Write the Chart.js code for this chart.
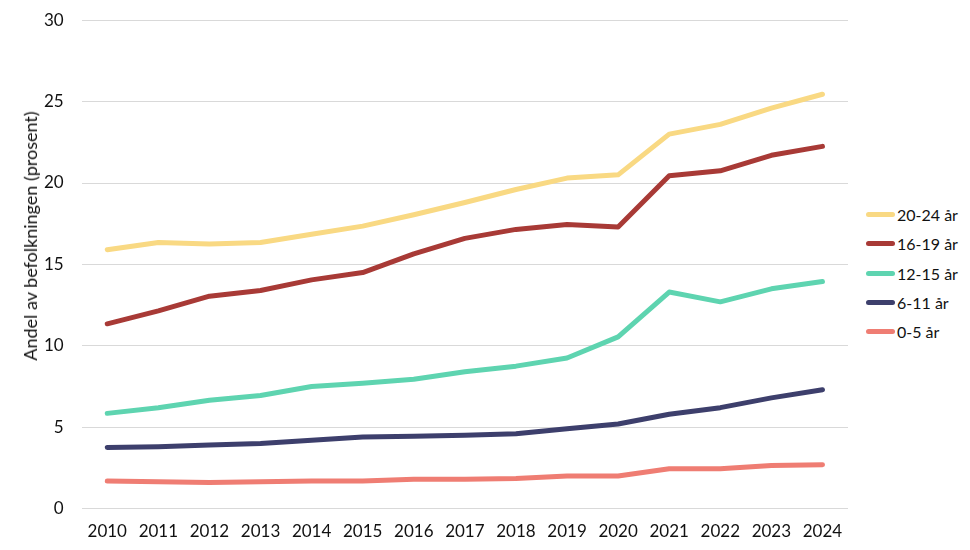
<!DOCTYPE html>
<html>
<head>
<meta charset="utf-8">
<script src="https://cdn.jsdelivr.net/npm/chart.js@4/dist/chart.umd.min.js"></script>
<style>
    body { margin: 0; background: #fff; font-family: Lato, "Open Sans", sans-serif; overflow: hidden; }
    #wrap { position: relative; width: 970px; height: 550px; overflow: hidden; }
    #box { position: absolute; left: 0; top: -8px; width: 858px; height: 555px; }
    #ytitle { position: absolute; left: 30px; top: 236px; transform: translate(-50%, -50%) rotate(-90deg);
              white-space: nowrap; font-size: 18px; color: #111; }
    #legend { position: absolute; left: 866px; top: 200px; font-size: 16px; color: #111; }
    #legend div { height: 29.3px; display: flex; align-items: center; }
    #legend span.swatch { display: inline-block; width: 29px; height: 5px; border-radius: 3px; margin-right: 2px; }
</style>
</head>
<body>
<div id="wrap">
    <div id="box"><canvas id="lineChart"></canvas></div>
    <div id="ytitle">Andel av befolkningen (prosent)</div>
    <div id="legend"></div>
</div>
<script>
const years = ['2010', '2011', '2012', '2013', '2014', '2015', '2016', '2017', '2018', '2019', '2020', '2021', '2022', '2023', '2024'];
const seriesNames = ['20-24 år', '16-19 år', '12-15 år', '6-11 år', '0-5 år'];
const age20to24 = [15.9, 16.35, 16.25, 16.35, 16.85, 17.35, 18.05, 18.8, 19.6, 20.3, 20.5, 23.0, 23.6, 24.6, 25.45];
const age16to19 = [11.35, 12.15, 13.05, 13.4, 14.05, 14.5, 15.65, 16.6, 17.15, 17.45, 17.3, 20.45, 20.75, 21.7, 22.25];
const age12to15 = [5.85, 6.2, 6.65, 6.95, 7.5, 7.7, 7.95, 8.4, 8.75, 9.25, 10.55, 13.3, 12.7, 13.5, 13.95];
const age6to11 = [3.75, 3.8, 3.9, 4.0, 4.2, 4.4, 4.45, 4.5, 4.6, 4.9, 5.2, 5.8, 6.2, 6.8, 7.3];
const age0to5 = [1.7, 1.65, 1.6, 1.65, 1.7, 1.7, 1.8, 1.8, 1.85, 2.0, 2.0, 2.45, 2.45, 2.65, 2.7];
const yTicks = [0, 5, 10, 15, 20, 25, 30];
const colors = ['#f9d983', '#a83a36', '#5ed4b0', '#3d3f6c', '#ef7d73'];

const seriesValues = [age20to24, age16to19, age12to15, age6to11, age0to5];

const datasets = seriesNames.map((name, i) => ({
    label: name,
    data: seriesValues[i],
    borderColor: colors[i],
    backgroundColor: colors[i],
    borderWidth: 5,
    borderCapStyle: 'round',
    borderJoinStyle: 'round',
    pointRadius: 0,
    tension: 0,
    fill: false
}));

// draw bottom series first so the order of overlap matches
const drawOrder = datasets.slice().reverse();

new Chart(document.getElementById('lineChart'), {
    type: 'line',
    data: { labels: years, datasets: drawOrder },
    options: {
        responsive: true,
        maintainAspectRatio: false,
        animation: false,
        layout: { padding: { top: 0, right: 10, bottom: 0, left: 26 } },
        plugins: {
            legend: { display: false },
            tooltip: { enabled: false }
        },
        scales: {
            x: {
                offset: true,
                grid: { display: false },
                border: { display: false },
                ticks: { color: '#111', font: { family: 'Lato', size: 17 }, padding: 5, maxRotation: 0 }
            },
            y: {
                min: 0,
                max: 30,
                afterBuildTicks: axis => { axis.ticks = yTicks.map(v => ({ value: v })); },
                grid: { color: '#d9d9d9', lineWidth: 1, drawTicks: false },
                border: { display: false },
                ticks: { color: '#111', font: { family: 'Lato', size: 17 }, padding: 18 }
            }
        }
    }
});

const legend = document.getElementById('legend');
seriesNames.forEach((name, i) => {
    const row = document.createElement('div');
    row.innerHTML = '<span class="swatch" style="background:' + colors[i] + '"></span>' + name;
    legend.appendChild(row);
});
</script>
</body>
</html>
